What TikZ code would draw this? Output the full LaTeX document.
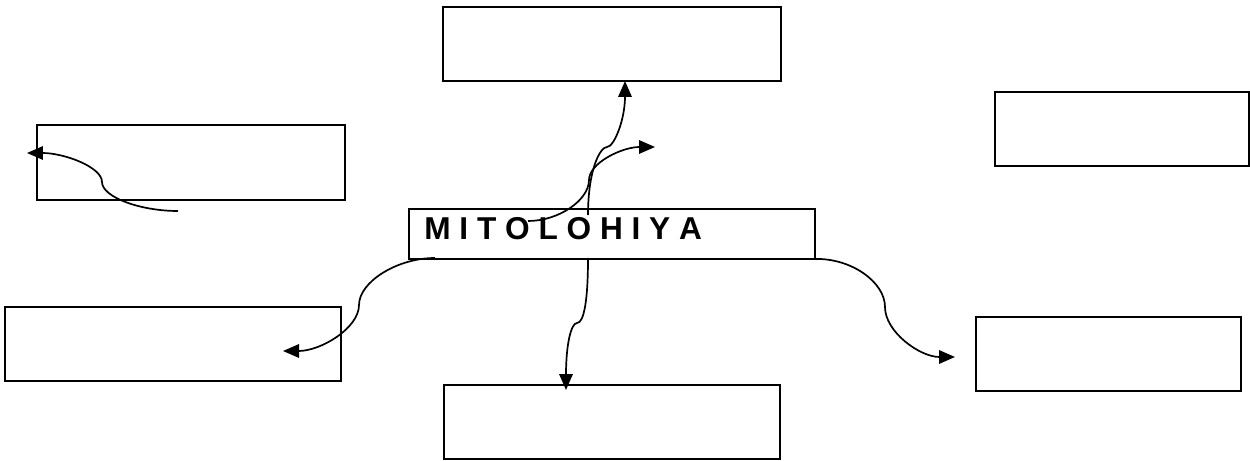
\documentclass[tikz,border=0pt]{standalone}
\usepackage{fontspec}
\setmainfont{Liberation Sans}
\usetikzlibrary{arrows.meta}
\tikzset{
  emptybox/.style={draw, line width=0.05cm, inner sep=0pt, outer sep=0pt, minimum height=1.48cm},
  curly/.style={line width=0.034cm, -{Triangle[length=0.32cm,width=0.27cm]}}
}

\begin{document}
\begin{tikzpicture}[x=0.02cm, y=0.02cm]
	%%%%% START %%%%%
	\useasboundingbox (0,0) rectangle (1250,460);

	% the six empty boxes
	\node[emptybox, minimum width=6.76cm] (bxtop) at (612,416) {};
	\node[emptybox, minimum width=6.16cm, minimum height=1.5cm] (bxnw) at (191,297.5) {};
	\node[emptybox, minimum width=5.08cm] (bxne) at (1122,331) {};
	\node[emptybox, minimum width=6.72cm] (bxsw) at (173,116) {};
	\node[emptybox, minimum width=5.3cm] (bxse) at (1108.5,106) {};
	\node[emptybox, minimum width=6.72cm] (bxbot) at (612,38) {};

	% middle box
	\node[emptybox, minimum width=8.12cm, minimum height=1cm] (myth) at (612,226) {};
	\node[anchor=base west, inner sep=0pt, font=\bfseries\fontsize{18}{20}\selectfont] (mythlabel) at (424,220) {M I T O L O H I Y A};

	% free ends of the arrows
	\coordinate (nwfrom) at (178,249);
	\coordinate (nwto) at (27,307);
	\coordinate (swfrom) at (435,202);
	\coordinate (swto) at (283,109);
	\coordinate (seto) at (955,103);
	\coordinate (botfrom) at (588,202);
	\coordinate (botto) at (566,70);
	\coordinate (topfrom) at (588,245);
	\coordinate (topto) at (625,379);
	\coordinate (nefrom) at (528,239);
	\coordinate (neto) at (655,313);

	\draw[curly] (nwfrom) .. controls (140,249) and (102,263) .. (102,278)
		.. controls (102,293) and (64,307) .. (nwto);
	\draw[curly] (swfrom) .. controls (397,202) and (359,178) .. (359,155)
		.. controls (359,132) and (321,109) .. (swto);
	\draw[curly] (myth.south east) .. controls (851,202) and (885,178) .. (885,153)
		.. controls (885,128) and (920,103) .. (seto);
	\draw[curly] (botfrom) .. controls (588,160) and (584,137) .. (577,137)
		.. controls (571,137) and (566,115) .. (botto);
	\draw[curly] (topfrom) .. controls (588,290) and (600,313) .. (607,313)
		.. controls (614,313) and (625,340) .. (topto);
	\draw[curly] (nefrom) .. controls (559,239) and (589,260) .. (589,280)
		.. controls (589,297) and (622,313) .. (neto);

	%%%%% END %%%%%
\end{tikzpicture}
\end{document}
